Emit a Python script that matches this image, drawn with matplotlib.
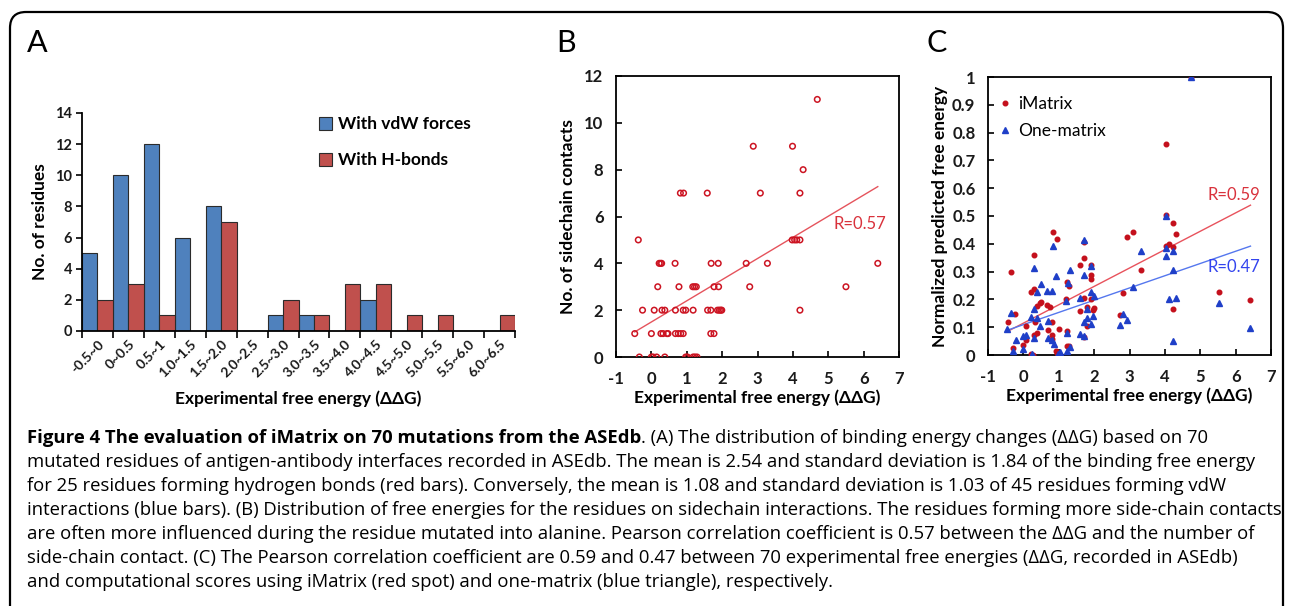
import numpy as np
import matplotlib
matplotlib.use('Agg')
import matplotlib.pyplot as plt
from matplotlib.patches import FancyBboxPatch, Patch

plt.rcParams['font.family'] = ['Lato', 'DejaVu Sans']
plt.rcParams['axes.unicode_minus'] = False

## ---- data ----
# panel A : histogram of ddG, vdW vs H-bond residues
bins = ['-0.5~0', '0~0.5', '0.5~1', '1.0~1.5', '1.5~2.0', '2.0~2.5', '2.5~3.0',
        '3.0~3.5', '3.5~4.0', '4.0~4.5', '4.5~5.0', '5.0~5.5', '5.5~6.0', '6.0~6.5']
vdw_counts = [5, 10, 12, 6, 8, 0, 1, 1, 0, 2, 0, 0, 0, 0]
hb_counts = [2, 3, 1, 0, 7, 0, 2, 1, 3, 3, 1, 1, 0, 1]

# panel B : ddG vs number of sidechain contacts
b_dg = [-0.47, -0.37, -0.34, -0.25, 0.0, 0.0, 0.05, 0.15, 0.08, 0.18, 0.22, 0.26, 0.29,
        0.27, 0.33, 0.30, 0.38, 0.38, 0.44, 0.47, 0.67, 0.68, 0.68, 0.76, 0.83, 0.90,
        0.78, 0.82, 0.91, 0.90, 0.97, 0.97, 1.02, 1.18, 1.17, 1.22, 1.27, 1.18, 1.23,
        1.29, 1.58, 1.59, 1.68, 1.69, 1.68, 1.77, 1.77, 1.90, 1.89, 1.87, 1.92, 1.96,
        1.99, 2.68, 2.78, 2.88, 3.08, 3.28, 3.99, 3.98, 4.05, 4.11, 4.20, 4.20, 4.29,
        4.20, 4.69, 5.50, 6.40]
b_contacts = [1, 5, 0, 2, 1, 0, 0, 0, 2, 3, 4, 4, 4, 1, 1, 2, 2, 0, 1, 1, 4, 2, 1, 1, 1,
              1, 3, 7, 7, 2, 2, 0, 0, 2, 3, 3, 3, 0, 0, 0, 7, 2, 2, 4, 1, 1, 3, 3, 4, 2,
              2, 2, 2, 4, 3, 9, 7, 4, 9, 5, 5, 5, 5, 7, 8, 2, 11, 3, 4]

# panel C : ddG vs normalized predicted free energy
imat_dg = [-0.44, -0.34, -0.30, -0.23, 0.07, 0.0, 0.07, 0.21, 0.22, 0.28, 0.30, 0.30,
           0.31, 0.34, 0.39, 0.39, 0.46, 0.50, 0.68, 0.69, 0.74, 0.80, 0.80, 0.82, 0.85,
           0.91, 0.95, 0.96, 1.02, 1.20, 1.22, 1.23, 1.23, 1.30, 1.30, 1.61, 1.61, 1.70,
           1.70, 1.70, 1.70, 1.79, 1.81, 1.90, 1.90, 1.90, 1.90, 1.96, 2.0, 2.72, 2.81,
           2.92, 3.11, 3.32, 4.02, 4.02, 4.03, 4.12, 4.22, 4.24, 4.24, 4.32, 4.74, 5.54,
           6.42]
imat_pred = [0.118, 0.30, 0.025, 0.146, 0.105, 0.037, 0.055, 0.225, 0.005, 0.0, 0.36,
             0.237, 0.073, 0.12, 0.175, 0.08, 0.187, 0.19, 0.18, 0.09, 0.173, 0.12, 0.073,
             0.058, 0.443, 0.016, 0.418, 0.007, 0.094, 0.2, 0.086, 0.031, 0.264, 0.247,
             0.034, 0.325, 0.157, 0.348, 0.406, 0.205, 0.065, 0.105, 0.173, 0.325, 0.289,
             0.273, 0.2, 0.163, 0.169, 0.145, 0.223, 0.424, 0.442, 0.307, 0.76, 0.502,
             0.393, 0.40, 0.475, 0.39, 0.165, 0.435, 1.0, 0.228, 0.197]
one_dg = [-0.46, -0.34, -0.30, -0.22, 0.0, 0.0, 0.08, 0.21, 0.25, 0.30, 0.30, 0.30, 0.39,
          0.39, 0.50, 0.46, 0.68, 0.69, 0.69, 0.80, 0.80, 0.83, 0.87, 0.93, 0.98, 1.03,
          1.21, 1.23, 1.23, 1.25, 1.31, 1.31, 1.60, 1.60, 1.70, 1.70, 1.70, 1.70, 1.80,
          1.80, 1.90, 1.90, 1.90, 1.96, 2.01, 2.72, 2.81, 2.92, 3.11, 3.32, 4.02, 4.03,
          4.03, 4.13, 4.23, 4.23, 4.23, 4.32, 4.74, 5.54, 6.42]
one_pred = [0.095, 0.15, 0.016, 0.053, 0.02, 0.067, 0.073, 0.135, 0.004, 0.313, 0.165,
            0.061, 0.225, 0.133, 0.255, 0.103, 0.229, 0.123, 0.061, 0.229, 0.055, 0.391,
            0.04, 0.285, 0.005, 0.01, 0.193, 0.08, 0.016, 0.259, 0.307, 0.028, 0.077,
            0.205, 0.415, 0.289, 0.119, 0.067, 0.165, 0.133, 0.319, 0.225, 0.111, 0.139,
            0.213, 0.107, 0.147, 0.127, 0.245, 0.373, 0.499, 0.385, 0.355, 0.2, 0.373,
            0.305, 0.05, 0.205, 1.0, 0.187, 0.098]

caption_bold = 'Figure 4 The evaluation of iMatrix on 70 mutations from the ASEdb'
caption_lines = [
    '. (A) The distribution of binding energy changes (ΔΔG) based on 70',
    'mutated residues of antigen-antibody interfaces recorded in ASEdb. The mean is 2.54 and standard deviation is 1.84 of the binding free energy',
    'for 25 residues forming hydrogen bonds (red bars). Conversely, the mean is 1.08 and standard deviation is 1.03 of 45 residues forming vdW',
    'interactions (blue bars). (B) Distribution of free energies for the residues on sidechain interactions. The residues forming more side-chain contacts',
    'are often more influenced during the residue mutated into alanine. Pearson correlation coefficient is 0.57 between the ΔΔG and the number of',
    'side-chain contact. (C) The Pearson correlation coefficient are 0.59 and 0.47 between 70 experimental free energies (ΔΔG, recorded in ASEdb)',
    'and computational scores using iMatrix (red spot) and one-matrix (blue triangle), respectively.',
]

W, H = 1290, 606
fig = plt.figure(figsize=(W / 100, H / 100), dpi=100)

# outer rounded frame (pixel coords)
frame = FancyBboxPatch((10, -30), 1273, H - 12 + 30, boxstyle='round,pad=0,rounding_size=16',
                       transform=None, fill=False, edgecolor='black', linewidth=1.6)
fig.add_artist(frame)

def px_axes(l, r, t, b):
    "axes from pixel edges"
    return fig.add_axes([l / W, 1 - b / H, (r - l) / W, (b - t) / H])

txtc = '#1a1a1a'

## ---------------- panel A ----------------
axA = px_axes(82, 515, 113, 331)
n = len(bins)
xs = np.arange(n)
axA.bar(xs, vdw_counts, width=0.5, align='edge', color='#4F81BD', edgecolor='#2b2b2b', linewidth=0.8)
axA.bar(xs + 0.5, hb_counts, width=0.5, align='edge', color='#C0504D', edgecolor='#2b2b2b', linewidth=0.8)
axA.set_xlim(0, n)
axA.set_ylim(0, 14)
axA.set_yticks(range(0, 15, 2))
axA.set_xticks(xs + 0.5)
axA.set_xticklabels(bins, rotation=45, ha='right', rotation_mode='anchor')
axA.set_xticks(np.arange(n + 1), minor=True)
axA.tick_params(axis='x', which='major', length=0, pad=5, labelsize=10)
axA.tick_params(axis='x', which='minor', length=5, width=1.2, direction='out')
axA.tick_params(axis='y', length=4, width=1.2, labelsize=10.5, pad=3)
for lab in axA.get_xticklabels() + axA.get_yticklabels():
    lab.set_fontweight('bold')
    lab.set_color(txtc)
for s in ['top', 'right']:
    axA.spines[s].set_visible(False)
for s in ['left', 'bottom']:
    axA.spines[s].set_linewidth(1.3)
axA.set_ylabel('No. of residues', fontsize=12.5, fontweight='bold', labelpad=5)
axA.set_xlabel('Experimental free energy (ΔΔG)', fontsize=12.5, fontweight='bold', labelpad=8)
handles = [Patch(facecolor='#4F81BD', edgecolor='#2b2b2b', linewidth=0.8, label='With vdW forces'),
           Patch(facecolor='#C0504D', edgecolor='#2b2b2b', linewidth=0.8, label='With H-bonds')]
axA.legend(handles=handles, loc='upper left', bbox_to_anchor=(0.548, 0.985), frameon=False,
           prop={'size': 12.5, 'weight': 'bold'}, handlelength=0.75, handleheight=0.75,
           handletextpad=0.35, labelspacing=1.15, borderpad=0, borderaxespad=0)

## ---------------- panel B ----------------
axB = px_axes(616, 899, 76, 357)
axB.scatter(b_dg, b_contacts, s=16, facecolors='none', edgecolors='#CC1422', linewidths=1.1, zorder=3)
kb = np.polyfit(b_dg, b_contacts, 1)
xl = np.array([min(b_dg), max(b_dg)])
axB.plot(xl, np.polyval(kb, xl), color='#E5535C', linewidth=1.0, zorder=2)
axB.text(5.15, 5.7, 'R=0.57', color='#D9323C', fontsize=12, va='center')
axB.set_xlim(-1, 7)
axB.set_ylim(0, 12)
axB.set_xticks(range(-1, 8))
axB.set_yticks(range(0, 13, 2))
axB.set_ylabel('No. of sidechain contacts', fontsize=12.5, fontweight='bold', labelpad=6)
axB.set_xlabel('Experimental free energy (ΔΔG)', fontsize=12.5, fontweight='bold', labelpad=2)

## ---------------- panel C ----------------
axC = px_axes(988, 1271, 77, 355)
axC.plot(imat_dg, imat_pred, linestyle='none', marker='o', markersize=3.3, color='#C4101C',
         label='iMatrix', zorder=3)
axC.plot(one_dg, one_pred, linestyle='none', marker='^', markersize=3.8, color='#1F3FC8',
         label='One-matrix', zorder=4)
kr = np.polyfit(imat_dg, imat_pred, 1)
kbl = np.polyfit(one_dg, one_pred, 1)
xr = np.array([-0.4, max(imat_dg)])
axC.plot(xr, np.polyval(kr, xr), color='#E8525C', linewidth=1.0, zorder=2)
axC.plot(xr, np.polyval(kbl, xr), color='#5577EE', linewidth=1.0, zorder=2)
axC.text(5.2, 0.577, 'R=0.59', color='#D9323C', fontsize=12, va='center')
axC.text(5.2, 0.315, 'R=0.47', color='#3344EE', fontsize=12, va='center')
axC.set_xlim(-1, 7)
axC.set_ylim(0, 1)
axC.set_xticks(range(-1, 8))
axC.set_yticks(np.round(np.arange(0, 1.01, 0.1), 1))
axC.set_yticklabels(['0'] + ['%.1f' % v for v in np.arange(0.1, 0.95, 0.1)] + ['1'])
axC.set_ylabel('Normalized predicted free energy', fontsize=12.5, fontweight='bold', labelpad=3)
axC.set_xlabel('Experimental free energy (ΔΔG)', fontsize=12.5, fontweight='bold', labelpad=2)
axC.legend(loc='upper left', bbox_to_anchor=(0.04, 0.93), frameon=False, fontsize=12.5,
           handlelength=0.6, handletextpad=0.5, labelspacing=0.62, borderpad=0,
           borderaxespad=0, markerscale=1.0)

for ax in (axB, axC):
    ax.tick_params(direction='in', length=4, width=1.2, labelsize=12)
    ax.tick_params(axis='x', pad=10)
    ax.tick_params(axis='y', pad=9)
    for lab in ax.get_xticklabels() + ax.get_yticklabels():
        lab.set_fontweight('bold')
        lab.set_color(txtc)
    for s in ax.spines.values():
        s.set_linewidth(1.3)

# panel letters
for x0, letter in [(27, 'A'), (556, 'B'), (927, 'C')]:
    fig.text(x0 / W, 1 - 43 / H, letter, fontsize=22, va='center', ha='left')

## ---------------- caption ----------------
cap_font = ['Open Sans', 'DejaVu Sans']
fs = 12
x0 = 27 / W
ys = [438 + 24 * i for i in range(7)]
tb = fig.text(x0, 1 - ys[0] / H, caption_bold, fontsize=fs, fontweight='bold', va='center',
              family=cap_font)
caps = [fig.text(x0, 1 - y / H, s, fontsize=fs, va='center', family=cap_font)
        for y, s in zip(ys, caption_lines)]
fig.canvas.draw()
r = fig.canvas.get_renderer()
widths = [tb.get_window_extent(r).width + caps[0].get_window_extent(r).width]
widths += [t.get_window_extent(r).width for t in caps[1:]]
fs = fs * 1242 / max(widths)
tb.set_fontsize(fs)
for t in caps:
    t.set_fontsize(fs)
fig.canvas.draw()
caps[0].set_x(tb.get_window_extent(r).x1 / W)

fig.savefig('out.png', dpi=100)
